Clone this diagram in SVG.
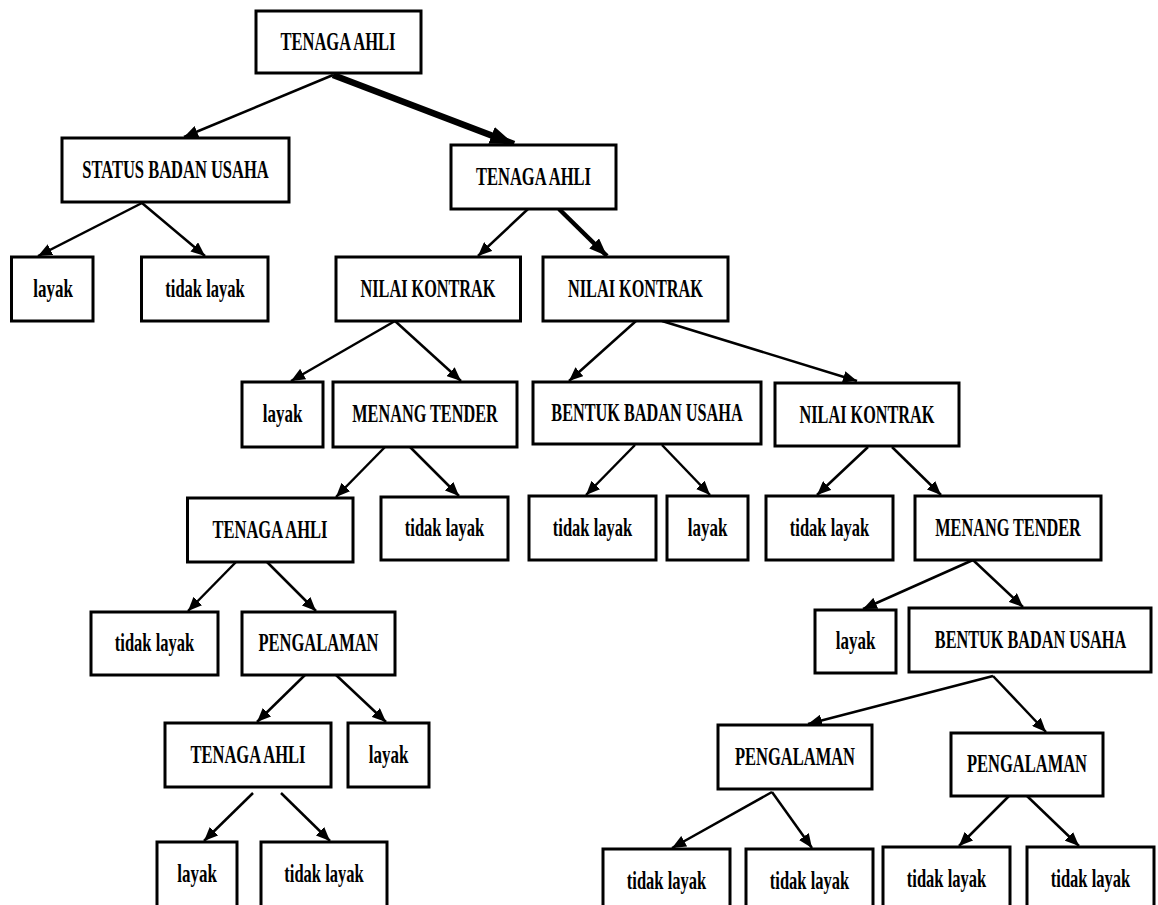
<svg xmlns="http://www.w3.org/2000/svg" width="1158" height="905" viewBox="0 0 1158 905">
  <defs>
    <style>
      .box { fill: #fff; stroke: #000; stroke-width: 3; }
      .lbl { font-family: "Liberation Serif", "Times New Roman", serif; font-weight: bold; font-size: 25px; fill: #000; text-anchor: middle; }
      .edge { stroke: #000; stroke-width: 2.5; fill: none; marker-end: url(#arrow); }
      .edge-bold { stroke: #000; stroke-width: 6.5; fill: none; marker-end: url(#arrow-bold); }
      .edge-mid { stroke: #000; stroke-width: 4.5; fill: none; marker-end: url(#arrow-mid); }
    </style>
    <marker id="arrow" viewBox="0 0 14 12" refX="14" refY="6" markerWidth="14" markerHeight="12" markerUnits="userSpaceOnUse" orient="auto">
      <path d="M0,0 L14,6 L0,12 Z" fill="#000"/>
    </marker>
    <marker id="arrow-mid" viewBox="0 0 18 14" refX="18" refY="7" markerWidth="18" markerHeight="14" markerUnits="userSpaceOnUse" orient="auto">
      <path d="M0,0 L18,7 L0,14 Z" fill="#000"/>
    </marker>
    <marker id="arrow-bold" viewBox="0 0 24 18" refX="24" refY="9" markerWidth="24" markerHeight="18" markerUnits="userSpaceOnUse" orient="auto">
      <path d="M0,0 L24,9 L0,18 Z" fill="#000"/>
    </marker>
  </defs>

  <rect width="1158" height="905" fill="#fff"/>

  <!-- connectors -->
  <g id="connectors">
    <line class="edge" x1="333" y1="75" x2="184" y2="137"/>
    <line class="edge-bold" x1="333" y1="75" x2="514" y2="144"/>
    <line class="edge" x1="142" y1="203" x2="38" y2="256"/>
    <line class="edge" x1="142" y1="203" x2="205" y2="256"/>
    <line class="edge" x1="528" y1="209" x2="478" y2="256"/>
    <line class="edge-mid" x1="559" y1="209" x2="607" y2="256"/>
    <line class="edge" x1="395" y1="321" x2="291" y2="381"/>
    <line class="edge" x1="395" y1="321" x2="461" y2="381"/>
    <line class="edge" x1="636" y1="321" x2="569" y2="381"/>
    <line class="edge" x1="662" y1="321" x2="857" y2="381"/>
    <line class="edge" x1="385" y1="447" x2="336" y2="497"/>
    <line class="edge" x1="410" y1="447" x2="459" y2="496"/>
    <line class="edge" x1="635" y1="445" x2="586" y2="495"/>
    <line class="edge" x1="662" y1="445" x2="710" y2="495"/>
    <line class="edge" x1="868" y1="447" x2="817" y2="495"/>
    <line class="edge" x1="892" y1="447" x2="941" y2="495"/>
    <line class="edge" x1="973" y1="560" x2="863" y2="609"/>
    <line class="edge" x1="973" y1="560" x2="1023" y2="607"/>
    <line class="edge" x1="236" y1="562" x2="188" y2="611"/>
    <line class="edge" x1="267" y1="562" x2="316" y2="611"/>
    <line class="edge" x1="305" y1="675" x2="257" y2="722"/>
    <line class="edge" x1="336" y1="675" x2="386" y2="722"/>
    <line class="edge" x1="253" y1="793" x2="204" y2="841"/>
    <line class="edge" x1="281" y1="793" x2="330" y2="841"/>
    <line class="edge" x1="993" y1="676" x2="808" y2="724"/>
    <line class="edge" x1="993" y1="676" x2="1046" y2="732"/>
    <line class="edge" x1="772" y1="792" x2="672" y2="848"/>
    <line class="edge" x1="772" y1="792" x2="812" y2="848"/>
    <line class="edge" x1="1009" y1="796" x2="959" y2="846"/>
    <line class="edge" x1="1027" y1="796" x2="1079" y2="846"/>
  </g>

  <!-- nodes: labels are set in a condensed bold serif (horizontal scale 0.66) -->
  <g id="n-root"><rect class="box" x="256" y="11" width="165" height="62"/><text class="lbl" transform="translate(338 50) scale(0.66 1)">TENAGA AHLI</text></g>
  <g id="n-sbu"><rect class="box" x="62" y="138" width="227" height="64"/><text class="lbl" transform="translate(175.5 178) scale(0.66 1)">STATUS BADAN USAHA</text></g>
  <g id="n-ta2"><rect class="box" x="451" y="145" width="165" height="64"/><text class="lbl" transform="translate(533.5 185) scale(0.66 1)">TENAGA AHLI</text></g>
  <g id="n-layak1"><rect class="box" x="11.5" y="257" width="81.5" height="64"/><text class="lbl" transform="translate(53 297) scale(0.68 1)">layak</text></g>
  <g id="n-tl1"><rect class="box" x="141.5" y="257" width="126.5" height="64"/><text class="lbl" transform="translate(205 297) scale(0.66 1)">tidak layak</text></g>
  <g id="n-nk1"><rect class="box" x="336" y="257" width="184.5" height="64"/><text class="lbl" transform="translate(428 297) scale(0.65 1)">NILAI KONTRAK</text></g>
  <g id="n-nk2"><rect class="box" x="543" y="257" width="185" height="64"/><text class="lbl" transform="translate(635.5 297) scale(0.65 1)">NILAI KONTRAK</text></g>
  <g id="n-layak2"><rect class="box" x="242" y="382" width="81" height="65"/><text class="lbl" transform="translate(282.5 422) scale(0.68 1)">layak</text></g>
  <g id="n-mt1"><rect class="box" x="333" y="382" width="184" height="65"/><text class="lbl" transform="translate(425 422) scale(0.65 1)">MENANG TENDER</text></g>
  <g id="n-bbu1"><rect class="box" x="533" y="382" width="228" height="62"/><text class="lbl" transform="translate(647 421) scale(0.65 1)">BENTUK BADAN USAHA</text></g>
  <g id="n-nk3"><rect class="box" x="775" y="383" width="184" height="63"/><text class="lbl" transform="translate(867 423) scale(0.65 1)">NILAI KONTRAK</text></g>
  <g id="n-ta3"><rect class="box" x="187.5" y="498" width="165.5" height="64"/><text class="lbl" transform="translate(270 538) scale(0.66 1)">TENAGA AHLI</text></g>
  <g id="n-tl2"><rect class="box" x="381" y="497" width="127" height="63"/><text class="lbl" transform="translate(444.5 536) scale(0.66 1)">tidak layak</text></g>
  <g id="n-tl3"><rect class="box" x="529" y="496" width="127" height="64"/><text class="lbl" transform="translate(592.5 536) scale(0.66 1)">tidak layak</text></g>
  <g id="n-layak3"><rect class="box" x="667" y="496" width="81" height="64"/><text class="lbl" transform="translate(707.5 536) scale(0.68 1)">layak</text></g>
  <g id="n-tl4"><rect class="box" x="766" y="496" width="127" height="64"/><text class="lbl" transform="translate(829.5 536) scale(0.66 1)">tidak layak</text></g>
  <g id="n-mt2"><rect class="box" x="915" y="496" width="186" height="64"/><text class="lbl" transform="translate(1008 536) scale(0.65 1)">MENANG TENDER</text></g>
  <g id="n-tl5"><rect class="box" x="91" y="612" width="127" height="63"/><text class="lbl" transform="translate(154.5 651) scale(0.66 1)">tidak layak</text></g>
  <g id="n-peng1"><rect class="box" x="242" y="612" width="153" height="63"/><text class="lbl" transform="translate(318.5 651) scale(0.66 1)">PENGALAMAN</text></g>
  <g id="n-layak4"><rect class="box" x="815" y="610" width="81" height="63"/><text class="lbl" transform="translate(855.5 649) scale(0.68 1)">layak</text></g>
  <g id="n-bbu2"><rect class="box" x="909" y="608" width="242" height="64"/><text class="lbl" transform="translate(1030.5 648) scale(0.65 1)">BENTUK BADAN USAHA</text></g>
  <g id="n-ta4"><rect class="box" x="165" y="723" width="166" height="64"/><text class="lbl" transform="translate(248 763) scale(0.66 1)">TENAGA AHLI</text></g>
  <g id="n-layak5"><rect class="box" x="348" y="723" width="81" height="64"/><text class="lbl" transform="translate(388.5 763) scale(0.68 1)">layak</text></g>
  <g id="n-peng2"><rect class="box" x="718" y="725" width="154" height="64"/><text class="lbl" transform="translate(795 765) scale(0.66 1)">PENGALAMAN</text></g>
  <g id="n-peng3"><rect class="box" x="951" y="733" width="152" height="63"/><text class="lbl" transform="translate(1027 772) scale(0.66 1)">PENGALAMAN</text></g>
  <g id="n-layak6"><rect class="box" x="157" y="842" width="80" height="70"/><text class="lbl" transform="translate(197 882) scale(0.68 1)">layak</text></g>
  <g id="n-tl6"><rect class="box" x="261" y="842" width="126" height="70"/><text class="lbl" transform="translate(324 882) scale(0.66 1)">tidak layak</text></g>
  <g id="n-tl7"><rect class="box" x="603" y="849" width="127" height="70"/><text class="lbl" transform="translate(666.5 889) scale(0.66 1)">tidak layak</text></g>
  <g id="n-tl8"><rect class="box" x="746" y="849" width="127" height="70"/><text class="lbl" transform="translate(809.5 889) scale(0.66 1)">tidak layak</text></g>
  <g id="n-tl9"><rect class="box" x="883" y="847" width="127" height="70"/><text class="lbl" transform="translate(946.5 887) scale(0.66 1)">tidak layak</text></g>
  <g id="n-tl10"><rect class="box" x="1027" y="847" width="127" height="70"/><text class="lbl" transform="translate(1090.5 887) scale(0.66 1)">tidak layak</text></g>
</svg>
